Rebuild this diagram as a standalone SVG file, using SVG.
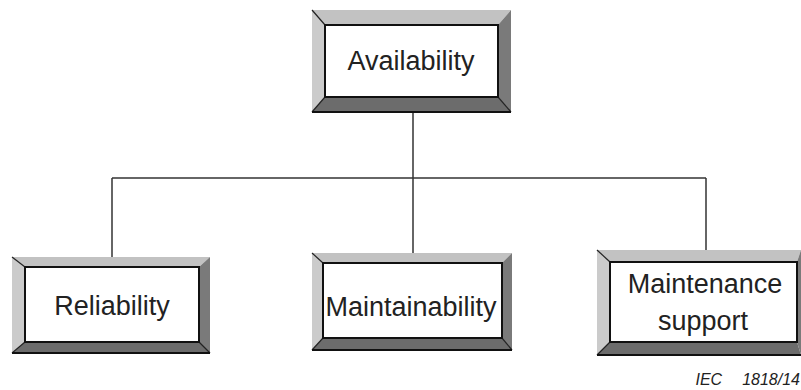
<svg xmlns="http://www.w3.org/2000/svg" width="801" height="390" viewBox="0 0 801 390">
<style>
.top{fill:#c2c2c2}
.left{fill:#cbcbcb}
.right{fill:#7a7a7a}
.bot{fill:#6c6c6c}
.inner{fill:#fff;stroke:#111;stroke-width:2}
.edge{stroke:#111;stroke-width:2;fill:none}
.diag{stroke:#222;stroke-width:1.2;fill:none}
.lbl{font-family:"Liberation Sans",Arial,sans-serif;font-size:27px;fill:#222;text-anchor:middle}
.conn{stroke:#333;stroke-width:1.5;fill:none}
.note{font-family:"Liberation Sans",Arial,sans-serif;font-size:16px;font-style:italic;fill:#222}
</style>
<rect width="801" height="390" fill="#fff"/>
<g id="connectors">
<line class="conn" x1="413" y1="112" x2="413" y2="178"/>
<line class="conn" x1="112" y1="178" x2="706" y2="178"/>
<line class="conn" x1="112" y1="178" x2="112" y2="257"/>
<line class="conn" x1="413" y1="178" x2="413" y2="253"/>
<line class="conn" x1="706" y1="178" x2="706" y2="250"/>
</g>
<g id="availability">
<polygon class="top" points="312,10 511,10 498,25 325,25"/>
<polygon class="left" points="312,10 325,25 325,97 312,112"/>
<polygon class="right" points="511,10 511,112 498,97 498,25"/>
<polygon class="bot" points="312,112 511,112 498,97 325,97"/>
<line class="diag" x1="312" y1="10" x2="325" y2="25"/>
<line class="diag" x1="511" y1="112" x2="498" y2="97"/>
<line class="diag" x1="312" y1="112" x2="325" y2="97"/>
<line class="edge" x1="312" y1="112" x2="511" y2="112"/>
<rect class="inner" x="325" y="25" width="173" height="72"/>
<text class="lbl" x="411" y="70">Availability</text>
</g>
<g id="reliability">
<polygon class="top" points="12,257 210,257 199,267 25,267"/>
<polygon class="left" points="12,257 25,267 25,342 12,353"/>
<polygon class="right" points="210,257 210,353 199,342 199,267"/>
<polygon class="bot" points="12,353 210,353 199,342 25,342"/>
<line class="diag" x1="12" y1="257" x2="25" y2="267"/>
<line class="diag" x1="210" y1="353" x2="199" y2="342"/>
<line class="diag" x1="12" y1="353" x2="25" y2="342"/>
<line class="edge" x1="12" y1="353" x2="210" y2="353"/>
<rect class="inner" x="25" y="267" width="174" height="75"/>
<text class="lbl" x="112" y="315">Reliability</text>
</g>
<g id="maintainability">
<polygon class="top" points="312,253 512,253 502,263 323,263"/>
<polygon class="left" points="312,253 323,263 323,338 312,350"/>
<polygon class="right" points="512,253 512,350 502,338 502,263"/>
<polygon class="bot" points="312,350 512,350 502,338 323,338"/>
<line class="diag" x1="312" y1="253" x2="323" y2="263"/>
<line class="diag" x1="512" y1="350" x2="502" y2="338"/>
<line class="diag" x1="312" y1="350" x2="323" y2="338"/>
<line class="edge" x1="312" y1="350" x2="512" y2="350"/>
<rect class="inner" x="323" y="263" width="179" height="75"/>
<text class="lbl" x="411" y="316">Maintainability</text>
</g>
<g id="maintenance-support">
<polygon class="top" points="597,250 801,250 797,262 610,262"/>
<polygon class="left" points="597,250 610,262 610,342 597,355"/>
<polygon class="right" points="801,250 801,355 797,342 797,262"/>
<polygon class="bot" points="597,355 801,355 797,342 610,342"/>
<line class="diag" x1="597" y1="250" x2="610" y2="262"/>
<line class="diag" x1="597" y1="355" x2="610" y2="342"/>
<line class="edge" x1="597" y1="355" x2="801" y2="355"/>
<rect class="inner" x="610" y="262" width="187" height="80"/>
<text class="lbl" x="705" y="293">Maintenance</text>
<text class="lbl" x="703" y="330">support</text>
</g>
<text class="note" x="800" y="385" text-anchor="end">IEC<tspan dx="20">1818/14</tspan></text>
</svg>
